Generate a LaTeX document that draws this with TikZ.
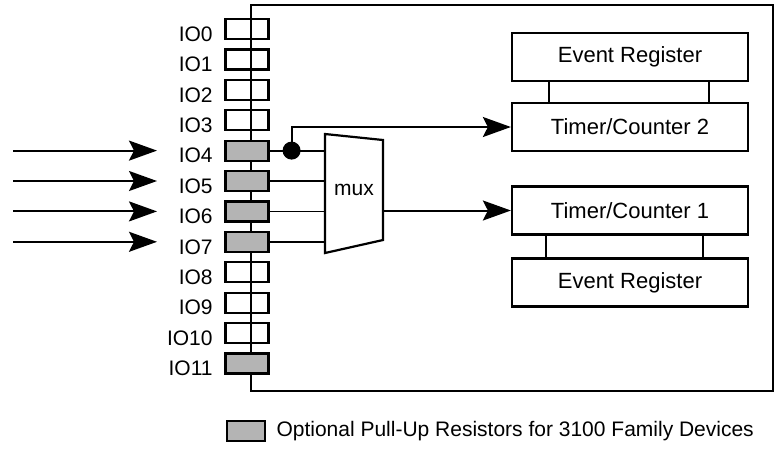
\documentclass[tikz,border=0pt]{standalone}
\usepackage{fontspec}
\setmainfont{Liberation Sans}
\usetikzlibrary{arrows.meta,calc,positioning}
\definecolor{Ink}{HTML}{000000}
\definecolor{PullGray}{HTML}{B4B4B4}
\tikzset{
  iobox/.style={draw=Ink, line width=1.1pt, minimum width=21.5pt, minimum height=10pt, inner sep=0pt},
  pullbox/.style={iobox, fill=PullGray},
  block/.style={draw=Ink, line width=1.1pt, minimum width=118pt, minimum height=24pt, inner sep=0pt, font=\fontsize{11pt}{13pt}\selectfont},
  wire/.style={draw=Ink, line width=0.9pt},
  sig/.style={draw=Ink, line width=1pt, -{Stealth[length=14pt,width=10pt,inset=2.5pt]}}
}

\begin{document}
\begin{tikzpicture}[x=0.5pt, y=-0.5pt, font=\fontsize{10.5pt}{12.6pt}\selectfont]
  \useasboundingbox (0,0) rectangle (782,452);

  % chip outline
  \node[draw=Ink, line width=1.1pt, minimum width=261pt, minimum height=193pt, inner sep=0pt] (chip) at (512,198) {};

  % IO pins
  \foreach \i/\kind in {0/iobox,1/iobox,2/iobox,3/iobox,4/pullbox,5/pullbox,6/pullbox,7/pullbox,8/iobox,9/iobox,10/iobox,11/pullbox} {
    \node[\kind] (io\i) at (247, 29+\i*30.4) {};
    \node[anchor=east, inner sep=0pt] (lbl\i) at (213, 29+\i*30.4+5) {IO\i};
  }

  % external inputs
  \foreach \i in {4,...,7} {
    \coordinate (src\i) at (13, 29+\i*30.4);
    \coordinate (dst\i) at (157, 29+\i*30.4);
    \draw[sig] (src\i) -- (dst\i);
  }

  % mux
  \coordinate (mxtl) at (325,134);
  \coordinate (mxtr) at (383,140);
  \coordinate (mxbr) at (383,240);
  \coordinate (mxbl) at (325,253);
  \draw[line width=1.1pt] (mxtl) -- (mxtr) -- (mxbr) -- (mxbl) -- cycle;
  \node (mux) at (354,190) {mux};

  % timers and event registers
  \node[block] (er2) at (630,57) {Event Register};
  \node[block] (tc2) at (630,127) {Timer/Counter 2};
  \node[block] (tc1) at (630,210.5) {Timer/Counter 1};
  \node[block] (er1) at (630,282.5) {Event Register};

  \draw[wire] ($(er2.south west)+(38,0)$) -- ($(tc2.north west)+(38,0)$);
  \draw[wire] ($(er2.south east)+(-40,0)$) -- ($(tc2.north east)+(-40,0)$);
  \draw[wire] ($(tc1.south west)+(35,0)$) -- ($(er1.north west)+(35,0)$);
  \draw[wire] ($(tc1.south east)+(-46,0)$) -- ($(er1.north east)+(-46,0)$);

  % pins into mux
  \foreach \i in {4,...,7} {
    \draw[wire] (io\i.east) -- (io\i.east -| mxtl);
  }
  \path (io4.east) ++(22,0) coordinate (tap);
  \fill[Ink] (tap) circle (4.5pt);
  \draw[sig] (tap) |- (tc2.west);
  \draw[sig] (tc1.west -| mxtr) -- (tc1.west);

  % legend
  \node[pullbox, minimum width=19pt] (key) at (246,431) {};
  \node[right=5pt of key, inner sep=0pt] (keytext) {Optional Pull-Up Resistors for 3100 Family Devices};
\end{tikzpicture}
\end{document}
